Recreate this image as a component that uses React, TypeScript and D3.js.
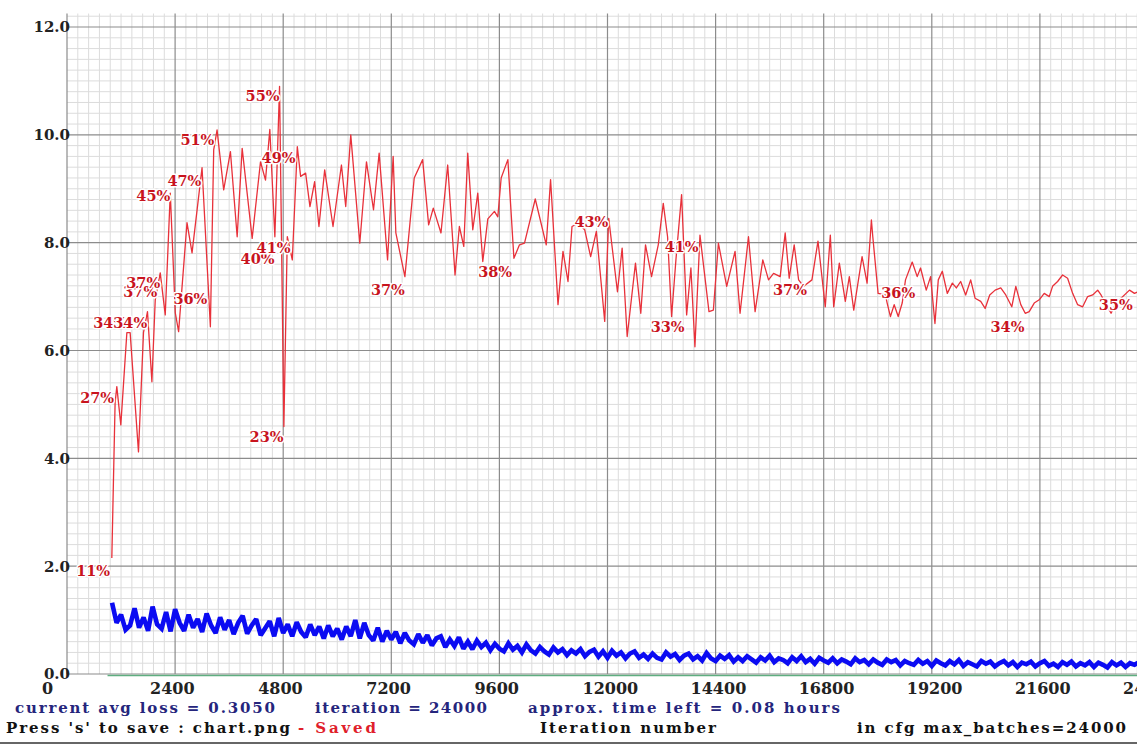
import React from "react";
import * as d3 from "d3";

const W = 1137;
const H = 745;

// y axis ticks (loss scale)
const yTicks = [0, 2, 4, 6, 8, 10, 12];
// x axis ticks (iterations)
const xTicks = [0, 2400, 4800, 7200, 9600, 12000, 14400, 16800, 19200, 21600, 24000];

// red mAP-ish line (iteration, plotted value)
const redIter = [
  995, 1068, 1106, 1195, 1329, 1402, 1587, 1698, 1787, 1885, 1959, 2070, 2181, 2293, 2404, 2478, 2664, 2776, 2998, 3183,
  3257, 3332, 3479, 3628, 3778, 3889, 4111, 4296, 4407, 4503, 4615, 4719, 4815, 4891, 5002, 5113, 5187, 5298, 5394, 5498,
  5594, 5721, 5906, 6093, 6188, 6300, 6500, 6649, 6805, 6930, 7117, 7241, 7301, 7502, 7709, 7896, 8029, 8132, 8303, 8452,
  8615, 8711, 8809, 8897, 9009, 9120, 9231, 9343, 9490, 9565, 9639, 9788, 9922, 10046, 10157, 10396, 10640, 10736, 10901, 11012,
  11123, 11212, 11346, 11493, 11626, 11753, 11938, 12027, 12221, 12325, 12437, 12621, 12739, 12844, 12978, 13127, 13238, 13334, 13423, 13519,
  13645, 13757, 13852, 13941, 14053, 14253, 14351, 14462, 14647, 14832, 14943, 15130, 15277, 15448, 15575, 15687, 15834, 15945, 16034, 16145,
  16243, 16355, 16539, 16673, 16835, 16947, 17022, 17147, 17280, 17369, 17467, 17652, 17763, 17859, 17890, 18008, 18171, 18209, 18282, 18365,
  18454, 18543, 18616, 18765, 18876, 18950, 19077, 19173, 19270, 19344, 19433, 19544, 19656, 19745, 19841, 19952, 20063, 20161, 20286, 20384,
  20486, 20606, 20731, 20842, 20976, 21065, 21176, 21274, 21363, 21474, 21585, 21696, 21808, 21881, 21993, 22104, 22215, 22327, 22438, 22549,
  22660, 22772, 22883, 22957, 23180, 23291, 23589, 23700, 23811, 24000,
];
const redVal = [
  2.15, 5.03, 5.33, 4.62, 6.33, 6.33, 4.12, 6.33, 6.72, 5.42, 6.94, 7.44, 6.66, 8.92, 6.7, 6.35, 8.37, 7.81, 9.39, 6.44,
  9.72, 10.09, 8.98, 9.69, 8.11, 9.75, 8.08, 9.5, 9.16, 10.1, 8.11, 10.9, 4.59, 8.11, 7.68, 9.78, 9.23, 9.29, 8.67, 9.13,
  8.3, 9.35, 8.3, 9.44, 8.67, 10.0, 7.99, 9.5, 8.61, 9.66, 7.68, 9.6, 8.18, 7.37, 9.2, 9.54, 8.33, 8.64, 8.18, 9.44,
  7.4, 8.3, 7.93, 9.66, 8.24, 8.92, 7.65, 8.44, 8.58, 8.48, 9.2, 9.54, 7.71, 7.96, 7.99, 8.81, 7.96, 9.17, 6.85, 7.84,
  7.28, 8.3, 8.36, 8.24, 7.74, 8.21, 6.54, 8.45, 7.09, 7.9, 6.26, 7.62, 6.69, 7.96, 7.37, 7.96, 8.73, 8.11, 6.63, 7.68,
  8.89, 6.66, 7.53, 6.07, 8.14, 6.72, 6.75, 7.99, 7.19, 7.84, 6.69, 8.11, 6.72, 7.68, 7.31, 7.43, 7.37, 8.18, 7.34, 7.96,
  7.31, 7.19, 7.31, 8.03, 6.81, 8.14, 6.81, 7.62, 6.91, 7.37, 6.75, 7.74, 7.25, 8.42, 8.11, 7.06, 7.03, 6.88, 6.63, 6.85,
  6.63, 6.88, 7.31, 7.64, 7.37, 7.53, 7.12, 7.37, 6.5, 7.31, 7.47, 7.06, 7.25, 7.16, 7.28, 7.03, 7.31, 6.97, 6.91, 6.78,
  7.03, 7.12, 7.16, 7.03, 6.81, 7.19, 6.85, 6.69, 6.72, 6.88, 6.94, 7.06, 7.0, 7.19, 7.28, 7.4, 7.34, 7.06, 6.85, 6.81,
  7.0, 7.03, 7.12, 7.03, 6.69, 6.88, 7.12, 7.06, 7.1, 7.1,
];

// mAP labels: iteration (right edge), mAP percent, text
const mapIter = [957, 1046, 1336, 1781, 2003, 2070, 2293, 2983, 3117, 3272, 4608, 4719, 4808, 4964, 5075, 7502, 9883, 12020, 13712, 14024, 16428, 18832, 21258, 23662];
const mapPct = [10.8, 26.8, 33.8, 33.8, 36.6, 37.5, 45.5, 46.9, 36.0, 50.7, 39.7, 54.8, 23.2, 40.7, 49.1, 36.8, 38.5, 43.1, 33.4, 40.8, 36.8, 36.5, 33.4, 35.4];
const mapText = ["11%", "27%", "34%", "34%", "37%", "37%", "45%", "47%", "36%", "51%", "40%", "55%", "23%", "41%", "49%", "37%", "38%", "43%", "33%", "41%", "37%", "36%", "34%", "35%"];

// blue loss line, one value every 100 iterations from 1000 to 24000
const lossStart = 1000;
const lossStep = 100;
const lossVal = [
  1.32, 0.95, 1.1, 0.82, 0.9, 1.22, 0.86, 1.05, 0.8, 1.25,
  0.92, 0.84, 1.15, 0.79, 1.2, 0.95, 0.8, 1.1, 0.86, 1.02,
  0.78, 1.12, 0.9, 0.76, 1.05, 0.82, 1.0, 0.74, 0.95, 1.08,
  0.75, 0.9, 1.02, 0.72, 0.85, 0.98, 0.7, 1.04, 0.76, 0.92,
  0.7, 0.96, 0.78, 0.68, 0.92, 0.72, 0.88, 0.66, 0.9, 0.7,
  0.84, 0.64, 0.88, 0.7, 1.0, 0.66, 0.95, 0.72, 0.62, 0.86,
  0.6, 0.8, 0.64, 0.78, 0.57, 0.76, 0.62, 0.55, 0.74, 0.58,
  0.72, 0.53, 0.66, 0.7, 0.5, 0.64, 0.52, 0.68, 0.47, 0.6,
  0.46, 0.62, 0.5, 0.58, 0.44, 0.56, 0.47, 0.42, 0.57, 0.45,
  0.52, 0.4, 0.55, 0.44, 0.38, 0.5, 0.42, 0.36, 0.49, 0.4,
  0.46, 0.35, 0.44, 0.38, 0.46, 0.33, 0.41, 0.45, 0.32, 0.42,
  0.3, 0.43, 0.34, 0.4, 0.29, 0.38, 0.42, 0.3, 0.36, 0.28,
  0.38, 0.3, 0.27, 0.4, 0.32, 0.37, 0.26, 0.34, 0.38, 0.27,
  0.33, 0.25, 0.39, 0.29, 0.24, 0.34, 0.28, 0.35, 0.23, 0.31,
  0.24, 0.33, 0.27, 0.21, 0.31, 0.25, 0.34, 0.22, 0.29, 0.26,
  0.2, 0.31, 0.24, 0.33, 0.22, 0.28, 0.19, 0.3, 0.25, 0.21,
  0.29, 0.2, 0.27, 0.23, 0.18, 0.29, 0.22, 0.26, 0.18, 0.27,
  0.21, 0.17, 0.27, 0.22, 0.26, 0.16, 0.24, 0.2, 0.17, 0.26,
  0.19, 0.24, 0.15, 0.25, 0.2, 0.16, 0.24, 0.18, 0.26, 0.15,
  0.22, 0.18, 0.14, 0.24, 0.19, 0.23, 0.14, 0.2, 0.24, 0.16,
  0.22, 0.13, 0.21, 0.18, 0.23, 0.14, 0.2, 0.24, 0.15, 0.19,
  0.13, 0.22, 0.17, 0.23, 0.14, 0.2, 0.16, 0.22, 0.13, 0.21,
  0.17, 0.12, 0.22, 0.16, 0.21, 0.13, 0.2, 0.17, 0.22, 0.14, 0.19,
];

const greenStart = 900;
const greenEnd = 24000;

const line1 = [
  { text: "current avg loss = 0.3050", x0: 15, x1: 275 },
  { text: "iteration = 24000", x0: 315, x1: 487 },
  { text: "approx. time left = 0.08 hours", x0: 528, x1: 840 },
];
const line2 = [
  { text: "Press 's' to save : chart.png", x0: 6, x1: 290, color: "#111" },
  { text: "- Saved", x0: 298, x1: 376, color: "#e0202a" },
  { text: "Iteration number", x0: 540, x1: 716, color: "#111" },
  { text: "in cfg max_batches=24000", x0: 857, x1: 1126, color: "#111" },
];

const FONT = "'DejaVu Serif', 'Liberation Serif', serif";

export default function App() {
  const x = d3.scaleLinear().domain([0, 24000]).range([67, 1148]);
  const y = d3.scaleLinear().domain([0, 12]).range([674, 27]);
  const top = y(12.25);
  const bottom = y(0);
  const left = x(0);

  const minorX = d3.range(0, 24000 + 1, 240).filter((v) => v % 2400 !== 0);
  const minorY = d3.range(0, 12.25, 0.2).map((v) => +v.toFixed(1)).filter((v) => Math.abs(v / 2 - Math.round(v / 2)) > 1e-6);

  const redLine = d3
    .line<number>()
    .x((_, i) => x(redIter[i]))
    .y((d) => y(d));
  const lossLine = d3
    .line<number>()
    .x((_, i) => x(lossStart + i * lossStep))
    .y((d) => y(d));

  return (
    <div style={{ position: "absolute", left: 0, top: 0, width: W, height: H, background: "#fff" }}>
      <svg width={W} height={H} viewBox={`0 0 ${W} ${H}`} style={{ display: "block" }}>
        <rect x={0} y={0} width={W} height={H} fill="#fff" />
        <g>
          {minorX.map((v) => (
            <line key={"mx" + v} x1={x(v)} x2={x(v)} y1={top} y2={bottom} stroke="#dcdcdc" strokeWidth={1} />
          ))}
          {minorY.map((v) => (
            <line key={"my" + v} x1={left} x2={W} y1={y(v)} y2={y(v)} stroke="#dcdcdc" strokeWidth={1} />
          ))}
          {xTicks.map((v) => (
            <line key={"MX" + v} x1={x(v)} x2={x(v)} y1={top} y2={bottom} stroke="#8c8c8c" strokeWidth={1.2} />
          ))}
          {yTicks.map((v) => (
            <line key={"MY" + v} x1={left} x2={W} y1={y(v)} y2={y(v)} stroke="#8c8c8c" strokeWidth={1.2} />
          ))}
        </g>
        {/* y tick labels */}
        {yTicks.map((v) => (
          <text
            key={"yl" + v}
            x={left + 3}
            y={y(v)}
            dy="0.36em"
            textAnchor="end"
            fontFamily={FONT}
            fontWeight="bold"
            fontSize={15}
            fill="#222"
          >
            {v.toFixed(1)}
          </text>
        ))}
        {/* x tick labels */}
        {xTicks.map((v) => (
          <text
            key={"xl" + v}
            x={x(v) - 25}
            y={694}
            textAnchor="start"
            fontFamily={FONT}
            fontWeight="bold"
            fontSize={16}
            fill="#222"
          >
            {String(v)}
          </text>
        ))}
        {/* green line */}
        <line x1={x(greenStart)} x2={x(greenEnd)} y1={bottom + 1.5} y2={bottom + 1.5} stroke="#5fae80" strokeWidth={1.6} />
        {/* loss line */}
        <path d={lossLine(lossVal) || ""} fill="none" stroke="#0b0bf2" strokeWidth={4.6} strokeLinejoin="miter" strokeMiterlimit={2} />
        {/* red line */}
        <path d={redLine(redVal) || ""} fill="none" stroke="#e8313a" strokeWidth={1.3} strokeLinejoin="round" />
        {/* mAP labels */}
        {mapText.map((t, i) => (
          <text
            key={"m" + i}
            x={x(mapIter[i])}
            y={y(mapPct[i] * 0.2) + 18}
            textAnchor="end"
            fontFamily={FONT}
            fontWeight="bold"
            fontSize={14.5}
            fill="#c8141e"
            stroke="#fff"
            strokeWidth={3}
            paintOrder="stroke"
            strokeLinejoin="round"
          >
            {t}
          </text>
        ))}
        {/* bottom status lines */}
        {line1.map((s, i) => (
          <text
            key={"l1" + i}
            x={s.x0}
            y={713}
            textLength={s.x1 - s.x0}
            lengthAdjust="spacing"
            fontFamily={FONT}
            fontWeight="bold"
            fontSize={15}
            fill="#25257c"
          >
            {s.text}
          </text>
        ))}
        {line2.map((s, i) => (
          <text
            key={"l2" + i}
            x={s.x0}
            y={733}
            textLength={s.x1 - s.x0}
            lengthAdjust="spacing"
            fontFamily={FONT}
            fontWeight="bold"
            fontSize={15}
            fill={s.color}
          >
            {s.text}
          </text>
        ))}
        <line x1={0} x2={W} y1={743} y2={743} stroke="#666" strokeWidth={2} />
      </svg>
    </div>
  );
}
